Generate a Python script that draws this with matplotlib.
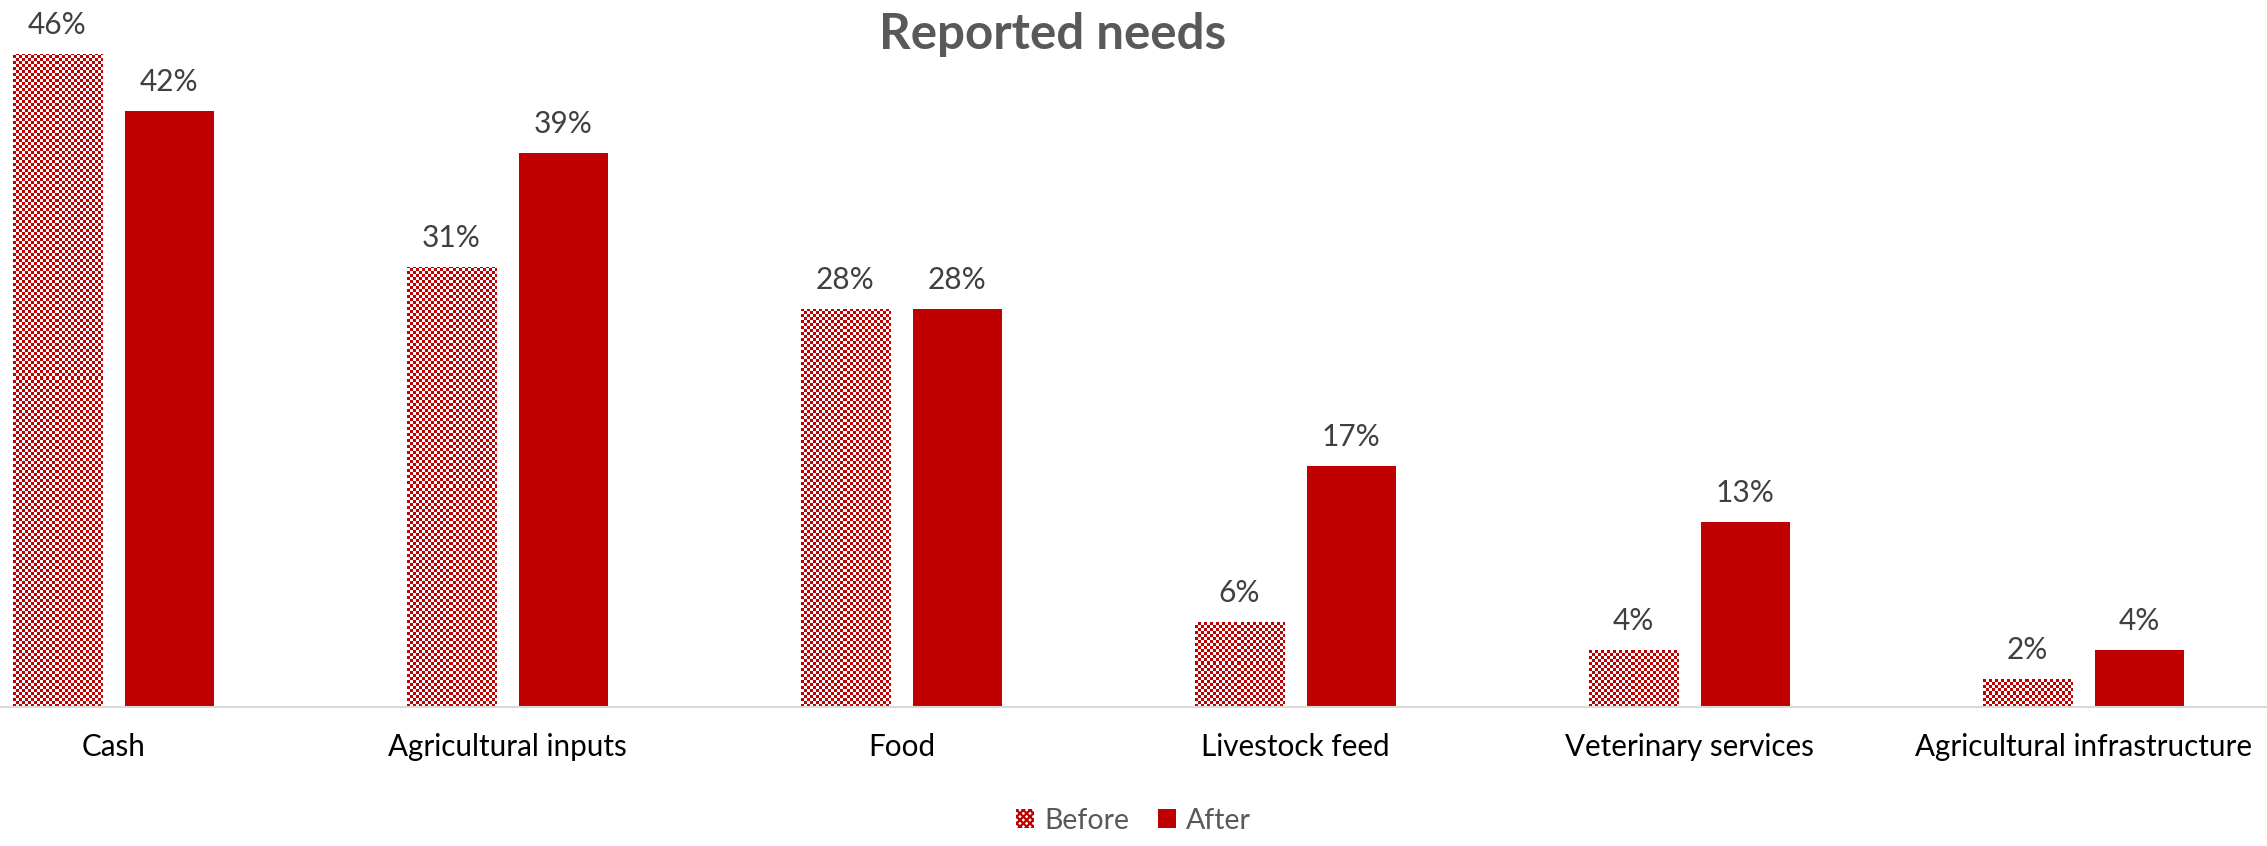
import numpy as np
import matplotlib
matplotlib.use("Agg")
import matplotlib.pyplot as plt
from matplotlib.patches import Patch

categories = ["Cash", "Agricultural inputs", "Food", "Livestock feed",
              "Veterinary services", "Agricultural infrastructure"]
before = [46, 31, 28, 6, 4, 2]
after = [42, 39, 28, 17, 13, 4]
series_names = ["Before", "After"]

RED = "#C00000"
plt.rcParams['font.family'] = ['Lato', 'DejaVu Sans']
plt.rcParams['hatch.linewidth'] = 1.6

W, H, DPI = 2267, 846, 100
fig = plt.figure(figsize=(W / DPI, H / DPI), dpi=DPI)
ax = fig.add_axes([0, (H - 707) / H, 1, 707 / H])
ax.set_xlim(-0.288, 5.466)
ax.set_ylim(0, 707 / 14.2)

x = np.arange(len(categories))
bw = 0.226
off = 0.142
b1 = ax.bar(x - off, before, bw, color="white", edgecolor="none", zorder=2)
b2 = ax.bar(x + off, after, bw, color=RED, edgecolor="none", zorder=2)

# checkerboard pattern fill for "Before" bars
for rect in b1:
    x0, y0 = rect.get_x(), rect.get_y()
    x1, y1 = x0 + rect.get_width(), y0 + rect.get_height()
    p0 = ax.transData.transform((x0, y0))
    p1 = ax.transData.transform((x1, y1))
    nx = max(1, int(round(p1[0] - p0[0])))
    ny = max(1, int(round(p1[1] - p0[1])))
    jj, ii = np.meshgrid(np.arange(nx), np.arange(ny))
    mask = ((ii // 3) + (jj // 3)) % 2 == 0
    img = np.ones((ny, nx, 3))
    img[mask] = (0xC0 / 255, 0, 0)
    im = ax.imshow(img, extent=(x0, x1, y0, y1), origin="lower",
                   interpolation="nearest", aspect="auto", zorder=2.5)
    im.set_clip_path(rect)

for rects, vals in ((b1, before), (b2, after)):
    for r, v in zip(rects, vals):
        ax.annotate(f"{v}%", (r.get_x() + r.get_width() / 2, r.get_height()),
                    xytext=(0, 14.4), textcoords="offset points",
                    ha="center", va="baseline", fontsize=21.5, color="#404040")

ax.set_xticks(x)
ax.set_xticklabels(categories, fontsize=21.3, color="black")
ax.tick_params(axis="x", length=0, pad=19)
ax.set_yticks([])
for s in ("top", "left", "right"):
    ax.spines[s].set_visible(False)
ax.spines["bottom"].set_color("#D9D9D9")
ax.spines["bottom"].set_linewidth(1.5)
ax.set_facecolor("none")

fig.text(1053 / W, 1 - 49 / H, "Reported needs", ha="center", va="baseline",
         fontsize=35.5, fontweight="bold", color="#595959")

handles = [Patch(facecolor="white", edgecolor=RED, hatch="xxxxx", linewidth=0),
           Patch(facecolor=RED, edgecolor="none")]
leg = fig.legend(handles, series_names, loc="lower center",
                 bbox_to_anchor=(0.5, -0.016), ncol=2, frameon=False,
                 fontsize=20.5, handlelength=0.65, handleheight=0.65,
                 handletextpad=0.35, columnspacing=1.0, labelcolor="#595959")

fig.savefig("out.png", dpi=DPI)
